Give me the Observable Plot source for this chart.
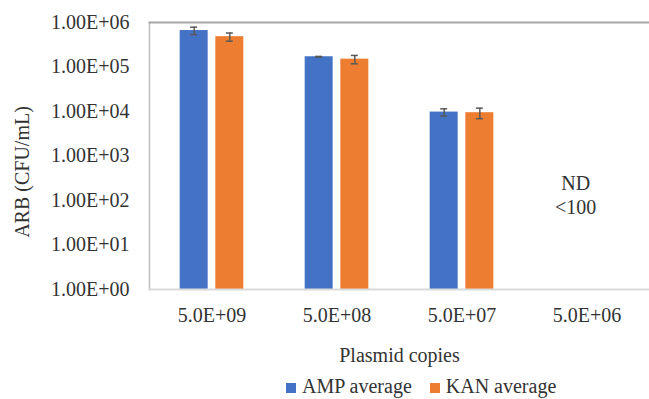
<!DOCTYPE html>
<html>
<head>
<meta charset="utf-8">
<script src="https://cdn.jsdelivr.net/npm/d3@7"></script>
<script src="https://cdn.jsdelivr.net/npm/@observablehq/plot@0.6"></script>
<style>
  html, body { margin: 0; padding: 0; background: #fff; overflow: hidden; }
  #chart svg { display: block; }
  .legend { display: flex; align-items: baseline; padding-top: 0px; padding-left: 286px;
            font-family: "Liberation Serif", serif; font-size: 20px; line-height: 23px; color: #333; }
  .legend .sw { display: inline-block; width: 10px; height: 10px; margin-right: 6px; }
  .legend .item { margin-right: 18px; white-space: nowrap; }
</style>
</head>
<body>
<div id="chart"></div>
<script>
const categories = ["5.0E+09", "5.0E+08", "5.0E+07", "5.0E+06"];
const series = ["AMP average", "KAN average"];
const colors = ["#4472C4", "#ED7D31"];
const ampValues = [6.6e5, 1.7e5, 9.7e3, null];
const ampErrors = [1.25e5, 3e3, 1.8e3, null];
const kanValues = [4.8e5, 1.5e5, 9.4e3, null];
const kanErrors = [1.0e5, 3.2e4, 2.5e3, null];
const yTicks = [1, 10, 100, 1e3, 1e4, 1e5, 1e6];
const noteCategory = ["5.0E+06"];
const noteText = ["ND\n<100"];
const noteValue = [140];

const rows = [];
categories.forEach((c, i) => {
  if (ampValues[i] != null) rows.push({category: c, series: series[0], value: ampValues[i], err: ampErrors[i]});
  if (kanValues[i] != null) rows.push({category: c, series: series[1], value: kanValues[i], err: kanErrors[i]});
});
const notes = noteCategory.map((c, i) => ({category: c, series: series[0], text: noteText[i], value: noteValue[i]}));

const fmt = d => "1.00E+" + String(Math.round(Math.log10(d))).padStart(2, "0");

const chart = Plot.plot({
  width: 649,
  height: 375,
  marginTop: 22,
  marginLeft: 148,
  marginRight: 0,
  marginBottom: 86,
  style: {fontFamily: "Liberation Serif", fontSize: "20px", color: "#333", background: "#fff"},
  fx: {domain: categories, padding: 0, tickSize: 0, tickPadding: 18.5, label: "Plasmid copies", labelAnchor: "center", labelOffset: 72},
  x: {domain: series, paddingInner: 0.215, paddingOuter: 0.86, round: false, axis: null},
  y: {type: "log", domain: [1, 1e6], ticks: yTicks, tickFormat: fmt, tickSize: 0, tickPadding: 20, label: null},
  color: {domain: series, range: colors},
  marks: [
    Plot.frame({facet: "super", anchor: "left", stroke: "#bfbfbf", strokeWidth: 1.5}),
    Plot.frame({facet: "super", anchor: "top", stroke: "#a6a6a6", strokeWidth: 2}),
    Plot.barY(rows, {fx: "category", x: "series", y1: 1, y2: "value", fill: "series"}),
    Plot.frame({facet: "super", anchor: "bottom", stroke: "#d9d9d9", strokeWidth: 2}),
    Plot.ruleX(rows, {fx: "category", x: "series", y1: d => d.value - d.err, y2: d => d.value + d.err, stroke: "#595959", strokeWidth: 1.5}),
    Plot.tickY(rows, {fx: "category", x: "series", y: d => d.value - d.err, stroke: "#595959", strokeWidth: 1.5, insetLeft: 10.5, insetRight: 10.5}),
    Plot.tickY(rows, {fx: "category", x: "series", y: d => d.value + d.err, stroke: "#595959", strokeWidth: 1.5, insetLeft: 10.5, insetRight: 10.5}),
    Plot.text(notes, {fx: "category", x: "series", y: "value", text: "text", lineAnchor: "middle", lineHeight: 1.23, dx: 6.5, fill: "#333", fontSize: 20}),
    Plot.text(["ARB (CFU/mL)"], {facet: "super", text: d => d, frameAnchor: "left", textAnchor: "middle", rotate: -90, dx: -127, dy: 16, fill: "#333", fontSize: 20})
  ]
});
document.getElementById("chart").appendChild(chart);

const legend = document.createElement("div");
legend.className = "legend";
series.forEach((s, i) => {
  const item = document.createElement("span");
  item.className = "item";
  const sw = document.createElement("span");
  sw.className = "sw";
  sw.style.background = colors[i];
  item.appendChild(sw);
  item.appendChild(document.createTextNode(s));
  legend.appendChild(item);
});
document.getElementById("chart").appendChild(legend);
</script>
</body>
</html>
